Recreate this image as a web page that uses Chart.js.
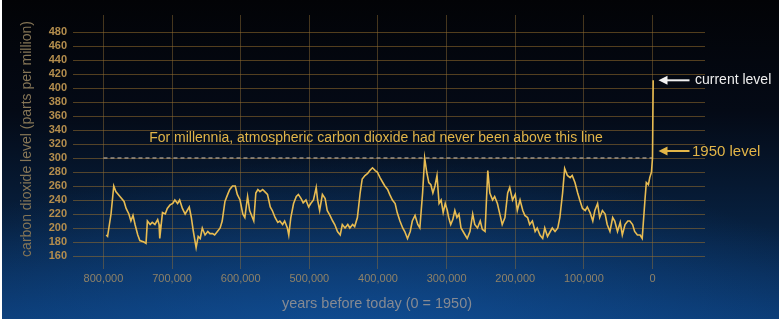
<!DOCTYPE html>
<html lang="en">
<head>
    <meta charset="UTF-8">
    <title>Carbon dioxide over 800,000 years</title>
    <script src="https://cdn.jsdelivr.net/npm/chart.js"></script>
    <style>
        html, body { margin: 0; padding: 0; background: #ffffff; }
        #wrap {
            position: relative;
            width: 782px;
            height: 321px;
            overflow: hidden;
        }
        #bg {
            position: absolute;
            left: 2px; top: 0; width: 777px; height: 319px;
            background:
                radial-gradient(ellipse 70% 60% at 45% 110%, rgba(20, 90, 170, 0.6), rgba(20, 90, 170, 0) 100%),
                linear-gradient(to bottom, #020306 0%, #040a16 35%, #07203f 70%, #0b3a72 100%);
        }
        #chart { position: absolute; left: 0; top: 0; }
    </style>
</head>
<body>
    <div id="wrap">
        <div id="bg"></div>
        <canvas id="chart" width="782" height="321"></canvas>
    </div>

    <script>
        // years before 1950, in thousands
        const yearsKa = [
            796, 794, 789, 785, 782, 776, 770, 767, 763, 760,
            757, 754, 750, 747, 741, 738, 736, 732, 729, 725,
            721, 719, 718, 714, 710, 707, 703, 699, 696, 692,
            689, 685, 681, 678, 675, 672, 669, 665, 662, 659,
            656, 652, 648, 645, 641, 638, 634, 630, 627, 623,
            619, 616, 612, 608, 605, 601, 597, 594, 590, 587,
            583, 581, 578, 575, 572, 568, 565, 561, 557, 554,
            550, 546, 543, 539, 536, 532, 530, 527, 523, 519,
            516, 512, 509, 505, 501, 498, 494, 490, 488, 485,
            481, 477, 474, 470, 466, 463, 459, 455, 452, 448,
            444, 441, 437, 434, 430, 426, 423, 419, 415, 412,
            408, 404, 401, 397, 393, 390, 386, 383, 379, 375,
            372, 368, 364, 361, 357, 353, 350, 346, 342, 339,
            335, 332, 329, 326, 323, 320, 317, 314, 311, 308,
            305, 302, 299, 297, 294, 291, 288, 285, 282, 279,
            276, 273, 270, 266, 262, 259, 255, 251, 248, 244,
            240, 237, 233, 230, 226, 222, 219, 215, 211, 208,
            204, 200, 197, 193, 189, 186, 182, 179, 175, 171,
            168, 164, 160, 157, 153, 149, 146, 142, 138, 135,
            131, 128, 124, 120, 117, 113, 109, 106, 102, 98,
            95, 91, 87, 84, 80, 77, 73, 69, 66, 62,
            58, 55, 51, 47, 44, 40, 36, 33, 29, 26,
            22, 18, 15, 11, 9, 6, 4, 1.5, 0, -1
        ];
        // carbon dioxide, parts per million
        const co2ppm = [
            190, 188, 220, 260, 252, 245, 238, 228, 220, 210,
            218, 205, 190, 182, 180, 178, 210, 205, 208, 205,
            212, 205, 185, 222, 220, 228, 233, 235, 240, 235,
            240, 228, 220, 225, 230, 215, 195, 172, 188, 185,
            200, 190, 195, 192, 192, 190, 195, 200, 210, 238,
            248, 255, 260, 260, 248, 240, 220, 215, 245, 225,
            215, 210, 250, 255, 252, 255, 252, 248, 230, 225,
            215, 208, 210, 205, 210, 200, 190, 215, 235, 245,
            248, 242, 236, 240, 230, 235, 240, 258, 240, 225,
            248, 242, 225, 218, 210, 205, 195, 190, 205, 200,
            205, 200, 205, 202, 215, 250, 270, 275, 278, 282,
            286, 282, 280, 272, 265, 260, 255, 248, 240, 235,
            222, 210, 200, 195, 185, 195, 210, 218, 205, 200,
            250, 300, 280, 265, 262, 250, 260, 275, 235, 240,
            222, 235, 225, 215, 205, 212, 225, 215, 220, 200,
            195, 190, 185, 195, 220, 205, 200, 210, 198, 195,
            282, 250, 240, 245, 235, 218, 205, 215, 250, 258,
            240, 248, 225, 240, 225, 218, 215, 205, 210, 195,
            200, 190, 185, 200, 188, 195, 200, 195, 200, 215,
            250, 285, 275, 272, 275, 265, 250, 240, 228, 225,
            230, 222, 210, 225, 235, 215, 225, 220, 205, 195,
            215, 210, 195, 208, 190, 205, 210, 210, 205, 195,
            190, 190, 185, 240, 265, 262, 272, 280, 300, 411
        ];
        const ceilingKa = [800, 0];
        const ceilingPpm = [300, 300];
        const xTickValues = [800, 700, 600, 500, 400, 300, 200, 100, 0];
        const yTickValues = [160, 180, 200, 220, 240, 260, 280, 300, 320, 340, 360, 380, 400, 420, 440, 460, 480];
        const currentPpm = 411;
        const level1950Ppm = 310;

        const FONT = '"Liberation Sans", Arial, Helvetica, sans-serif';

        const textPlugin = {
            id: 'textPlugin',
            afterDraw(chart) {
                const ctx = chart.ctx;
                const x = chart.scales.x;
                const y = chart.scales.y;
                ctx.save();
                ctx.textBaseline = 'middle';

                // axis titles
                ctx.fillStyle = '#857556';
                ctx.font = '14px ' + FONT;
                ctx.textAlign = 'center';
                ctx.save();
                ctx.translate(27, (chart.chartArea.top + chart.chartArea.bottom) / 2);
                ctx.rotate(-Math.PI / 2);
                ctx.fillText('carbon dioxide level (parts per million)', 0, 0, 246);
                ctx.restore();

                ctx.fillStyle = '#868a92';
                ctx.font = '15px ' + FONT;
                ctx.fillText('years before today (0 = 1950)', 377, 304, 190);

                // annotation above dashed line
                ctx.fillStyle = '#e2b548';
                ctx.font = '14px ' + FONT;
                ctx.fillText('For millennia, atmospheric carbon dioxide had never been above this line', 376, 138, 461);

                // arrows
                const x0 = x.getPixelForValue(0);
                const arrow = (py, color) => {
                    ctx.strokeStyle = color;
                    ctx.fillStyle = color;
                    ctx.lineWidth = 2;
                    ctx.beginPath();
                    ctx.moveTo(x0 + 12, py);
                    ctx.lineTo(x0 + 37, py);
                    ctx.stroke();
                    ctx.beginPath();
                    ctx.moveTo(x0 + 6, py);
                    ctx.lineTo(x0 + 15, py - 4.5);
                    ctx.lineTo(x0 + 15, py + 4.5);
                    ctx.closePath();
                    ctx.fill();
                };
                const yCur = y.getPixelForValue(currentPpm);
                const y1950 = y.getPixelForValue(level1950Ppm);
                arrow(yCur, '#f2f2f2');
                arrow(y1950, '#e2b548');

                ctx.textAlign = 'left';
                ctx.fillStyle = '#eeeeee';
                ctx.font = '14px ' + FONT;
                ctx.fillText('current level', 695, yCur, 83);
                ctx.fillStyle = '#e2b548';
                ctx.font = '15px ' + FONT;
                ctx.fillText('1950 level', 692, y1950 + 1, 70);

                ctx.restore();
            }
        };

        new Chart(document.getElementById('chart'), {
            type: 'line',
            data: {
                datasets: [{
                    label: 'CO2',
                    data: yearsKa.map((k, i) => ({ x: k, y: co2ppm[i] })),
                    borderColor: '#e8bc52',
                    borderWidth: 1.6,
                    pointRadius: 0,
                    tension: 0,
                    fill: false
                }, {
                    label: 'ceiling',
                    data: ceilingKa.map((k, i) => ({ x: k, y: ceilingPpm[i] })),
                    borderColor: 'rgba(175, 165, 150, 0.85)',
                    borderWidth: 1.5,
                    borderDash: [4, 3],
                    pointRadius: 0,
                    fill: false
                }]
            },
            options: {
                responsive: false,
                animation: false,
                layout: { padding: { top: 15, right: 77, left: 0, bottom: 0 } },
                plugins: {
                    legend: { display: false },
                    tooltip: { enabled: false }
                },
                scales: {
                    x: {
                        type: 'linear',
                        reverse: true,
                        min: -76.5,
                        max: 844.4,
                        afterBuildTicks: s => { s.ticks = xTickValues.map(v => ({ value: v })); },
                        afterFit: s => { s.height = 58; },
                        grid: {
                            color: 'rgba(150, 115, 55, 0.45)',
                            lineWidth: 1,
                            drawTicks: true,
                            tickLength: 6,
                            tickColor: 'rgba(150, 115, 55, 0.45)'
                        },
                        border: { display: false },
                        ticks: {
                            color: '#8f8267',
                            font: { family: FONT, size: 11 },
                            padding: 3,
                            maxRotation: 0,
                            autoSkip: false,
                            callback: v => (v * 1000).toLocaleString('en-US')
                        }
                    },
                    y: {
                        min: 150,
                        max: 504.3,
                        afterBuildTicks: s => { s.ticks = yTickValues.map(v => ({ value: v })); },
                        afterFit: s => { s.width = 73; },
                        grid: {
                            color: 'rgba(150, 110, 45, 0.55)',
                            lineWidth: 1,
                            drawTicks: false
                        },
                        border: { display: false },
                        ticks: {
                            color: '#b38d4d',
                            font: { family: FONT, size: 11, weight: 'bold' },
                            padding: 6,
                            autoSkip: false
                        }
                    }
                }
            },
            plugins: [textPlugin]
        });
    </script>
</body>
</html>
